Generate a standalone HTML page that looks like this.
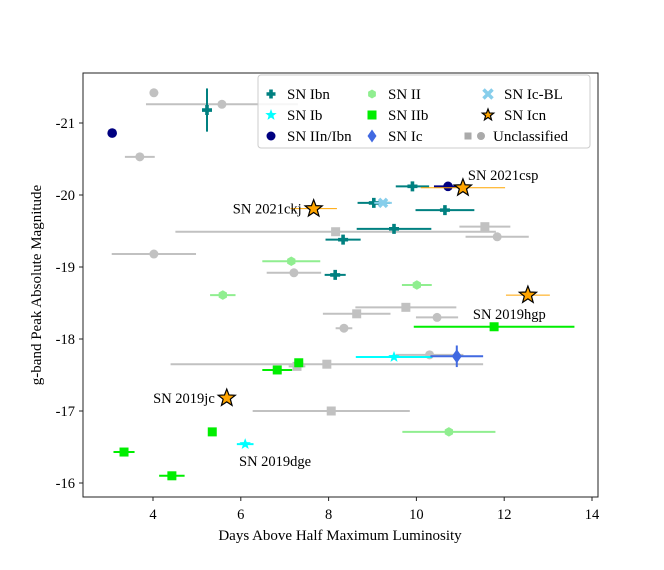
<!DOCTYPE html>
<html><head><meta charset="utf-8"><style>
body{margin:0;background:#fff}
svg{display:block;font-family:"Liberation Serif",serif}
</style></head><body>
<svg id="c" width="664" height="570"></svg>
<script>
const ibnX=[5.23,9.91,9.03,10.65,9.49,8.33,8.15], ibnY=[-21.18,-20.12,-19.89,-19.79,-19.53,-19.38,-18.89], ibnXe=[0,0.38,0.37,0.67,0.85,0.4,0.24], ibnYe=[0.3,0,0,0,0,0,0];
const iinX=[3.07,10.72], iinY=[-20.86,-20.12], iinXe=[0,0.32];
const blX=[9.24], blY=[-19.89], blXe=[0.2];
const icnX=[11.06,7.66,12.54,5.68], icnY=[-20.1,-19.81,-18.61,-17.18], icnXe=[0.96,0.53,0.5,0];
const icnLabels=["SN 2021csp","SN 2021ckj","SN 2019hgp","SN 2019jc"];
const iiX=[7.15,10.01,5.59,10.74], iiY=[-19.08,-18.75,-18.61,-16.71], iiXe=[0.66,0.34,0.29,1.06];
const iibX=[11.77,7.32,6.83,5.35,3.34,4.43], iibY=[-18.17,-17.67,-17.57,-16.71,-16.43,-16.1], iibXe=[1.83,0.1,0.34,0,0.24,0.29];
const ibX=[9.49,6.10], ibY=[-17.75,-16.54], ibXe=[0.87,0.19];
const icX=[10.92], icY=[-17.76], icXe=[0.6], icYe=[0.15];
const ucX=[4.02,5.57,3.70,4.02,7.21,10.47,8.35,10.30,11.84], ucY=[-21.42,-21.26,-20.53,-19.18,-18.92,-18.3,-18.15,-17.78,-19.42], ucXe=[0.1,1.73,0.34,0.96,0.62,0.48,0.19,0.77,0.72];
const usX=[8.16,11.56,9.76,8.64,7.28,7.96,8.06], usY=[-19.49,-19.56,-18.44,-18.35,-17.62,-17.65,-17.0], usXe=[3.65,0.58,1.15,0.77,0.19,3.56,1.79];
const xTicks=[4,6,8,10,12,14], yTicks=[-21,-20,-19,-18,-17,-16];

const NS="http://www.w3.org/2000/svg", svg=document.getElementById('c');
const X=v=>153+(v-4)*43.9, Y=v=>123+(v+21)*72;
function mk(t,a,p){const e=document.createElementNS(NS,t);for(const k in a)e.setAttribute(k,a[k]);(p||svg).appendChild(e);return e;}
function marker(shape,cx,cy,col,s,g){
  s=s||4.5;
  if(shape==='plus') mk('path',{d:`M${cx-1.8} ${cy-s}h3.6v${s-1.8}h${s-1.8}v3.6h${-(s-1.8)}v${s-1.8}h-3.6v${-(s-1.8)}h${-(s-1.8)}v-3.6h${s-1.8}z`,fill:col},g);
  else if(shape==='circle') mk('circle',{cx,cy,r:s,fill:col},g);
  else if(shape==='square') mk('rect',{x:cx-s,y:cy-s,width:2*s,height:2*s,fill:col},g);
  else if(shape==='diamond') mk('path',{d:`M${cx} ${cy-s-2}L${cx+s} ${cy}L${cx} ${cy+s+2}L${cx-s} ${cy}z`,fill:col},g);
  else if(shape==='hex'){let p='';for(let i=0;i<6;i++){const a=Math.PI/3*i+Math.PI/6;p+=(i?'L':'M')+(cx+s*Math.cos(a))+' '+(cy+s*Math.sin(a));}mk('path',{d:p+'z',fill:col},g);}
  else if(shape==='x') mk('path',{d:`M${cx-s} ${cy-s}L${cx+s} ${cy+s}M${cx+s} ${cy-s}L${cx-s} ${cy+s}`,stroke:col,'stroke-width':3.5},g);
  else if(shape==='star'||shape==='bigstar'){let p='';for(let i=0;i<10;i++){const r=i%2?s*0.42:s;const a=-Math.PI/2+i*Math.PI/5;p+=(i?'L':'M')+(cx+r*Math.cos(a)).toFixed(2)+' '+(cy+r*Math.sin(a)).toFixed(2);}
    mk('path',{d:p+'z',fill:col,stroke:shape==='bigstar'?'#000':'none','stroke-width':1.2},g);}
}
function series(name,xs,ys,xe,ye,shape,col,s,alpha){
  const g=mk('g',{opacity:alpha||1});
  
  
  xs.forEach((x,i)=>{
    const cx=X(x),cy=Y(ys[i]);
    if(xe&&xe[i]) mk('line',{x1:X(x-xe[i]),x2:X(x+xe[i]),y1:cy,y2:cy,stroke:col,'stroke-width':shape==='bigstar'?1:2},g);
    if(ye&&ye[i]) mk('line',{x1:cx,x2:cx,y1:Y(ys[i]-ye[i]),y2:Y(ys[i]+ye[i]),stroke:col,'stroke-width':2},g);
    marker(shape,cx,cy,col,s,g);
  });
}
const f=mk('rect',{x:83,y:73,width:515,height:424,fill:'none',stroke:'#222','stroke-width':1});


xTicks.forEach(t=>{mk('line',{x1:X(t),x2:X(t),y1:497,y2:501,stroke:'#222'});const e=mk('text',{x:X(t),y:519,'text-anchor':'middle','font-size':14.5});e.textContent=t;});
yTicks.forEach(t=>{mk('line',{x1:79,x2:83,y1:Y(t),y2:Y(t),stroke:'#222'});const e=mk('text',{x:75,y:Y(t)+5,'text-anchor':'end','font-size':14.5});e.textContent=t;});
let t=mk('text',{x:340,y:540,'text-anchor':'middle','font-size':15});t.textContent='Days Above Half Maximum Luminosity';
t=mk('text',{x:0,y:0,'text-anchor':'middle','font-size':15,transform:'translate(41,285) rotate(-90)'});t.textContent='g-band Peak Absolute Magnitude';

series('unclassified-circles',ucX,ucY,ucXe,null,'circle','#999',4.5,0.6);
series('unclassified-squares',usX,usY,usXe,null,'square','#999',4.5,0.6);
series('sn-ii',iiX,iiY,iiXe,null,'hex','#90ee90',4.8);
series('sn-iib',iibX,iibY,iibXe,null,'square','#00ee00',4.5);
series('sn-ib',ibX,ibY,ibXe,null,'star','#00ffff',6);
series('sn-ic',icX,icY,icXe,icYe,'diamond','#4169e1',5);
series('sn-ibn',ibnX,ibnY,ibnXe,ibnYe,'plus','#008080',5);
series('sn-iin-ibn',iinX,iinY,iinXe,null,'circle','#000080',4.8);
series('sn-ic-bl',blX,blY,blXe,null,'x','#87ceeb',4);
series('sn-icn',icnX,icnY,icnXe,null,'bigstar','#ffa500',9);
const lOff=[[5,-8,'start'],[-12,5,'end'],[-55,24,'start'],[-12,5,'end']];
icnX.forEach((x,i)=>{const e=mk('text',{x:X(x)+lOff[i][0],y:Y(icnY[i])+lOff[i][1],'text-anchor':lOff[i][2],'font-size':14.5});e.textContent=icnLabels[i];});
const extra=mk('text',{x:239,y:466,'font-size':14.5});extra.textContent='SN 2019dge';

const lg=mk('g',{});


mk('rect',{x:258,y:75,width:332,height:73,rx:3,fill:'#fff','fill-opacity':0.85,stroke:'#ccc'},lg);
const items=[['SN Ibn','plus','#008080',271,94],['SN Ib','star','#00ffff',271,115],['SN IIn/Ibn','circle','#000080',271,136],
['SN II','hex','#90ee90',372,94],['SN IIb','square','#00ee00',372,115],['SN Ic','diamond','#4169e1',372,136],
['SN Ic-BL','x','#87ceeb',488,94],['SN Icn','bigstar','#ffa500',488,115]];
items.forEach(it=>{marker(it[1],it[3],it[4],it[2],it[1]==='bigstar'?6:(it[1]==='star'?6:4.5),lg);const e=mk('text',{x:it[3]+16,y:it[4]+5,'font-size':15},lg);e.textContent=it[0];});
marker('square',468,136,'#aaa',3.5,lg);marker('circle',481,136,'#aaa',4,lg);
t=mk('text',{x:493,y:141,'font-size':15},lg);t.textContent='Unclassified';
</script>
</body></html>
